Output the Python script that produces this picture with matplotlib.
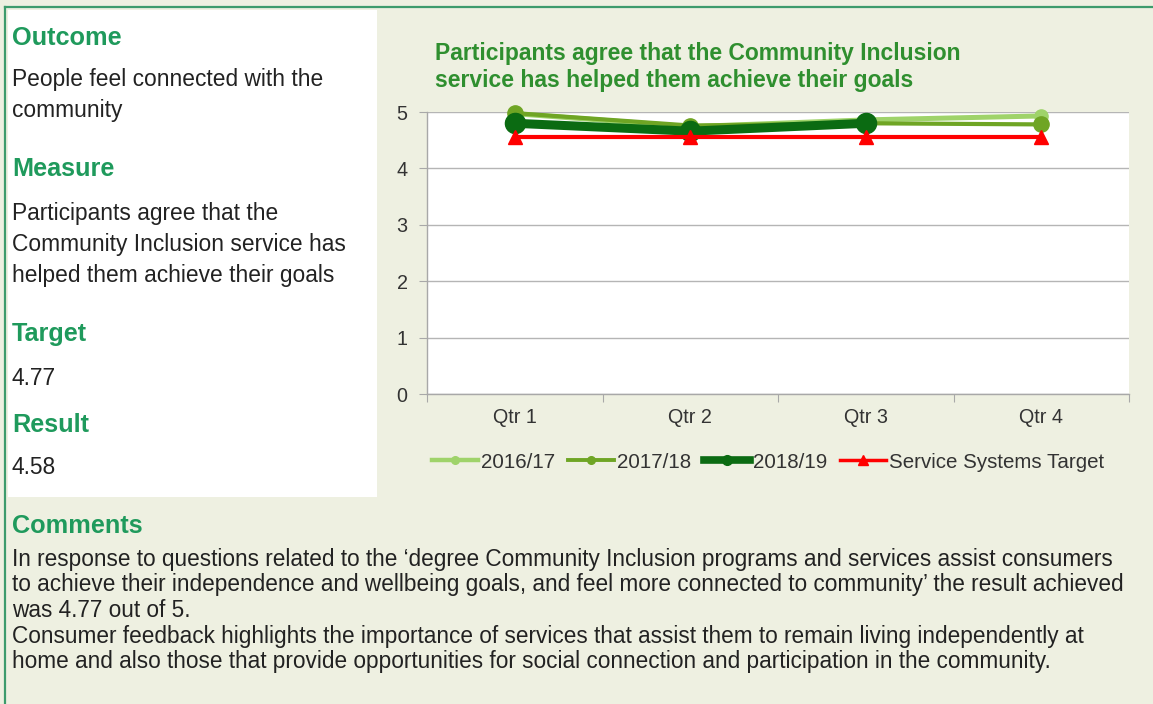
import matplotlib
matplotlib.use("Agg")
import matplotlib.pyplot as plt
from matplotlib.patches import Rectangle
from matplotlib.lines import Line2D

# ---- data ----
quarters = ["Qtr 1", "Qtr 2", "Qtr 3", "Qtr 4"]
series_names = ["2016/17", "2017/18", "2018/19", "Service Systems Target"]
vals_2016_17 = [4.97, 4.74, 4.86, 4.93]
vals_2017_18 = [4.98, 4.76, 4.80, 4.78]
vals_2018_19 = [4.80, 4.66, 4.80]
vals_target = [4.56, 4.56, 4.56, 4.56]
y_ticks = [0, 1, 2, 3, 4, 5]

chart_title = "Participants agree that the Community Inclusion\nservice has helped them achieve their goals"
left_blocks = [
    ("Outcome", ["People feel connected with the", "community"]),
    ("Measure", ["Participants agree that the", "Community Inclusion service has", "helped them achieve their goals"]),
    ("Target", ["4.77"]),
    ("Result", ["4.58"]),
]
comments_head = "Comments"
comments_lines = [
    "In response to questions related to the \u2018degree Community Inclusion programs and services assist consumers",
    "to achieve their independence and wellbeing goals, and feel more connected to community\u2019 the result achieved",
    "was 4.77 out of 5.",
    "Consumer feedback highlights the importance of services that assist them to remain living independently at",
    "home and also those that provide opportunities for social connection and participation in the community.",
]

# ---- style ----
W, H = 1153, 704
BG = "#eef0e1"
FRAME = "#3d9b6c"
HEAD = "#1f9a5c"
TITLE = "#2f8f2f"
TXT = "#222222"
c16 = "#9fd36a"
c17 = "#6fa524"
c18 = "#0b6b12"
cT = "#ff0000"

plt.rcParams["font.family"] = ["Liberation Sans", "DejaVu Sans"]

fig = plt.figure(figsize=(W / 100, H / 100), dpi=100)
fig.patch.set_facecolor(BG)

def fx(x):
    return x / W

def fy(y):
    return 1 - y / H

# frame lines
fig.add_artist(Line2D([fx(5), fx(W)], [fy(7), fy(7)], color=FRAME, lw=1.6))
fig.add_artist(Line2D([fx(5), fx(5)], [fy(7), fy(H)], color=FRAME, lw=1.6))
# white left box
fig.add_artist(Rectangle((fx(8), fy(497)), fx(377) - fx(8), fy(10) - fy(497),
                         facecolor="white", edgecolor="none"))

# left texts (baselines in px)
head_base = [45, 176, 341, 432]
body_base = [[86, 117], [220, 251, 282], [385], [474]]
for (head, lines), hb, bbs in zip(left_blocks, head_base, body_base):
    fig.text(fx(12), fy(hb), head, color=HEAD, fontsize=18.2, fontweight="bold", va="baseline", ha="left")
    for ln, b in zip(lines, bbs):
        fig.text(fx(12), fy(b), ln, color=TXT, fontsize=16.4, va="baseline", ha="left")

fig.text(fx(12), fy(533), comments_head, color=HEAD, fontsize=18.2, fontweight="bold", va="baseline", ha="left")
for i, ln in enumerate(comments_lines):
    fig.text(fx(12), fy(566 + i * 25.5), ln, color=TXT, fontsize=16.3, va="baseline", ha="left")

# chart title
t1, t2 = chart_title.split("\n")
fig.text(fx(435), fy(60), t1, color=TITLE, fontsize=16.5, fontweight="bold", va="baseline")
fig.text(fx(435), fy(87), t2, color=TITLE, fontsize=16.5, fontweight="bold", va="baseline")

# axes
ax = fig.add_axes([fx(427), fy(394), fx(1129) - fx(427), fy(112) - fy(394)])
ax.set_facecolor("white")
x = list(range(len(quarters)))
ax.set_xlim(-0.5, len(quarters) - 0.5)
ax.set_ylim(0, 5)
ax.set_yticks(y_ticks)
ax.yaxis.grid(True, color="#b5b5b5", lw=1.0)
ax.set_axisbelow(True)
for s in ["top", "right"]:
    ax.spines[s].set_visible(False)
ax.spines["left"].set_color("#a8a8a8")
ax.spines["bottom"].set_color("#a8a8a8")
ax.spines["left"].set_linewidth(1.0)
ax.spines["bottom"].set_linewidth(1.0)
ax.set_xticks([i + 0.5 for i in range(-1, len(quarters))], minor=False)
ax.set_xticklabels([])
ax.set_xticks(x, minor=True)
ax.set_xticklabels(quarters, minor=True, fontsize=14.2, color="#333333")
ax.tick_params(axis="x", which="major", length=6, color="#a8a8a8", direction="out")
ax.tick_params(axis="x", which="minor", length=0, pad=10)
ax.tick_params(axis="y", length=6, color="#a8a8a8", labelsize=14.2, labelcolor="#333333", pad=8)

ax.plot(x, vals_2016_17, color=c16, lw=3.6, marker="o", ms=9.5, clip_on=False, zorder=3)
ax.plot(x, vals_2017_18, color=c17, lw=3.0, marker="o", ms=11, clip_on=False, zorder=4)
ax.plot(x[:len(vals_2018_19)], vals_2018_19, color=c18, lw=6.5, marker="o", ms=14.5, clip_on=False, zorder=5)
ax.plot(x, vals_target, color=cT, lw=3.0, marker="^", ms=10.5, clip_on=False, zorder=6)

# legend
leg_handles = [
    Line2D([], [], color=c16, lw=3.2, marker="o", ms=5.5),
    Line2D([], [], color=c17, lw=2.8, marker="o", ms=5.5),
    Line2D([], [], color=c18, lw=5.5, marker="o", ms=7),
    Line2D([], [], color=cT, lw=2.5, marker="^", ms=7),
]
leg = fig.legend(leg_handles, series_names, loc="center left", bbox_to_anchor=(fx(432), fy(462)),
                 ncol=4, frameon=False, fontsize=14.8, handlelength=2.25, handletextpad=0.15,
                 columnspacing=0.6, borderaxespad=0, borderpad=0)
for t in leg.get_texts():
    t.set_color("#333333")

fig.savefig("out.png", dpi=100, facecolor=BG)
